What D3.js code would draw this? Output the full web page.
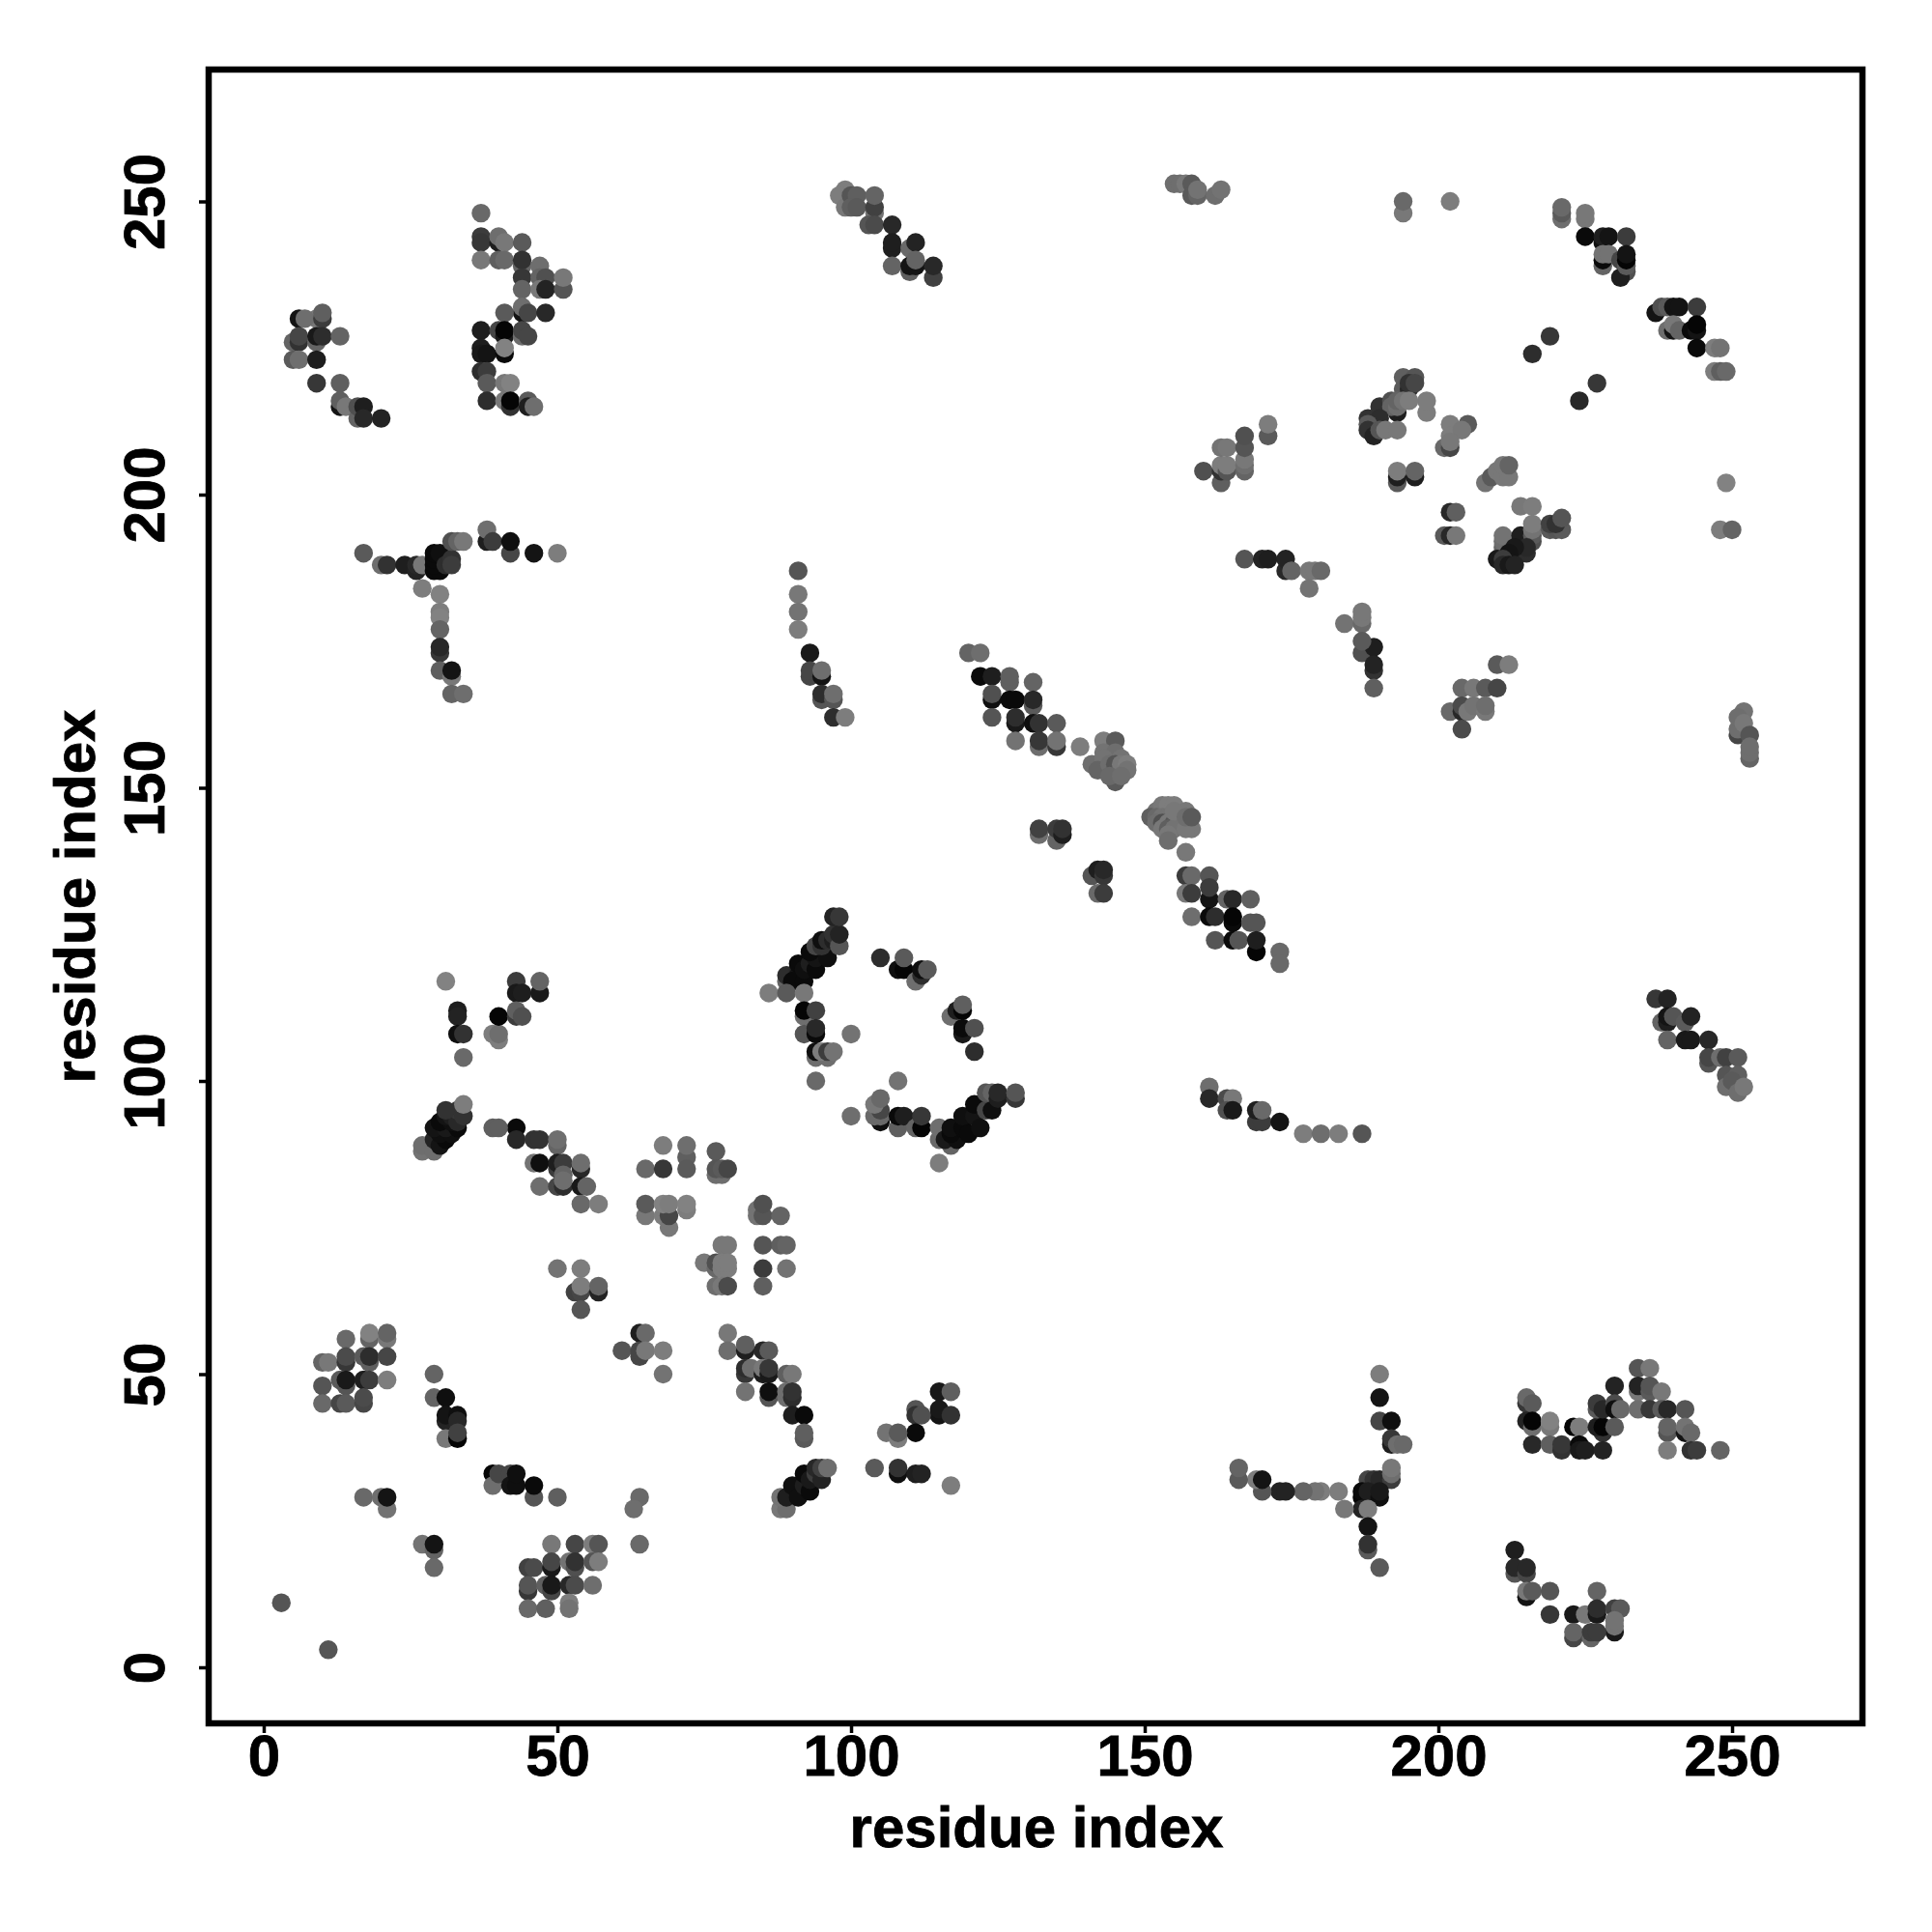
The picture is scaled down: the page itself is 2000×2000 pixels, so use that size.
<!DOCTYPE html>
<html><head><meta charset="utf-8">
<script src="https://cdn.jsdelivr.net/npm/d3@7"></script>
<style>html,body{margin:0;background:#fff}svg{display:block}</style></head>
<body><svg id="c" width="2000" height="2000"></svg>
<script>
const tickValues=[0,50,100,150,200,250];
const xLabel="residue index", yLabel="residue index";
// each entry: residue i, residue j, grey level
const clusterA=[[6,230,20],[9,230,120],[7,230,110],[10,230,60],[10,231,95],[5,226,100],[6,226,50],[6,227,70],[9,226,100],[9,227,25],[10,227,45],[13,227,100],[5,223,90],[6,223,110],[9,223,30],[9,219,55],[13,219,95],[13,215,20],[13,216,95],[14,215,120],[16,213,100],[16,215,80],[17,215,30],[17,213,40],[20,213,35]];
const clusterB=[[37,248,105],[37,244,60],[37,243,55],[40,243,30],[40,244,110],[41,243,120],[44,243,90],[37,240,120],[40,240,95],[41,240,105],[44,239,100],[44,240,50],[44,237,55],[44,235,100],[47,239,110],[47,237,100],[48,237,80],[47,235,120],[48,235,35],[51,235,85],[51,237,120],[44,231,20],[44,232,110],[45,231,70],[41,231,90],[48,231,40],[37,228,30],[40,228,70],[41,227,25],[41,228,5],[44,227,110],[44,228,70],[45,227,70],[37,225,30],[37,224,25],[38,224,20],[41,224,10],[41,225,130],[37,221,45],[38,221,60],[38,219,90],[41,219,120],[42,219,130],[38,216,45],[41,216,120],[42,215,50],[42,216,5],[45,216,90],[45,215,30],[46,215,110]];
const clusterT=[[17,190,90],[20,188,110],[21,188,50],[24,188,30],[26,187,35],[26,188,40],[27,188,120],[29,187,10],[30,187,10],[29,188,10],[29,189,10],[29,190,10],[30,190,15],[31,188,45],[32,189,50],[32,188,60],[32,192,80],[33,192,100],[34,192,120],[38,192,30],[38,194,110],[39,192,60],[42,190,70],[42,192,15],[46,190,20],[50,190,125],[27,184,125],[30,183,130],[30,180,125],[30,179,130],[30,177,100],[30,173,55],[30,174,40],[30,170,95],[32,169,120],[32,170,20],[32,166,100],[34,166,110]];
const clusterC=[[31,117,130],[43,117,60],[43,115,25],[44,115,30],[47,115,25],[47,117,100],[33,112,30],[33,111,35],[33,108,15],[34,108,50],[39,108,125],[40,107,125],[40,108,110],[40,111,5],[43,111,60],[43,112,95],[44,111,80],[34,104,105],[27,88,115],[27,89,110],[29,88,110],[29,90,35],[30,89,20],[31,90,10],[30,91,15],[29,92,20],[32,91,15],[31,92,25],[33,92,10],[30,93,10],[32,93,15],[31,94,20],[32,94,30],[33,93,40],[33,95,55],[31,95,50],[34,94,50],[34,96,125]];
const clusterD=[[43,92,10],[43,90,40],[39,92,95],[40,92,95],[46,90,50],[47,90,50],[50,89,100],[50,90,110],[46,86,115],[47,86,15],[50,85,60],[50,86,30],[51,86,60],[54,85,40],[54,86,110],[51,84,100],[47,82,110],[50,82,70],[51,82,45],[51,83,110],[54,82,25],[55,82,100],[54,79,105],[57,79,125]];
const clusterE=[[68,89,125],[72,87,95],[72,89,110],[65,85,105],[68,85,55],[72,85,90],[65,77,120],[65,79,90],[68,77,125],[69,75,120],[69,77,70],[68,79,130],[69,79,125],[72,78,125],[72,79,130],[50,68,115],[54,68,125],[53,64,65],[54,64,70],[54,65,125],[57,64,35],[57,65,100],[54,61,85],[64,57,30],[65,57,105],[61,54,85],[64,53,70],[64,54,70],[65,54,120],[68,54,125],[68,50,115]];
const clusterF=[[10,52,100],[11,52,120],[14,56,105],[18,56,100],[18,57,130],[21,56,120],[21,57,100],[14,52,55],[14,53,75],[17,53,90],[18,52,95],[18,53,45],[21,53,70],[10,48,85],[13,49,90],[14,48,85],[14,49,25],[17,49,30],[18,49,60],[21,49,125],[10,45,105],[13,45,70],[14,45,90],[17,45,70],[17,46,75],[29,50,100],[29,46,100],[31,46,15],[31,42,35],[31,43,20],[33,43,15],[33,42,40],[31,39,120],[33,39,5],[33,40,65]];
const clusterG=[[39,33,5],[39,31,110],[40,33,70],[42,33,70],[42,31,20],[43,31,15],[43,33,15],[46,29,85],[46,31,10],[50,29,95],[17,29,105],[20,29,110],[21,27,115],[21,29,20],[27,21,115],[29,20,100],[29,21,20],[29,17,105],[64,29,105],[63,27,110],[64,21,105],[3,11,85],[11,3,85]];
const clusterH=[[49,21,120],[53,21,70],[56,21,125],[57,21,85],[45,17,65],[46,17,75],[49,17,25],[49,18,70],[52,18,115],[53,17,80],[53,18,50],[56,18,85],[57,18,125],[45,13,55],[45,14,85],[48,14,95],[49,13,70],[49,14,25],[52,14,40],[53,14,75],[56,14,110],[45,10,105],[48,10,95],[52,11,125],[52,10,115]];
const clusterI=[[99,252,125],[98,251,125],[99,249,120],[100,251,85],[101,251,95],[100,249,95],[101,249,90],[104,248,115],[104,249,65],[104,251,100],[103,246,85],[104,246,75],[107,246,40],[107,242,30],[107,243,30],[110,242,105],[111,243,35],[107,239,100],[110,238,95],[110,239,20],[111,239,20],[111,240,100],[114,237,65],[114,239,40],[91,187,85],[91,183,120],[91,180,115],[91,177,125]];
const clusterJ=[[93,173,25],[93,169,70],[93,170,70],[95,169,20],[95,170,110],[95,165,85],[95,166,45],[97,165,85],[97,166,110],[97,162,45],[99,162,125],[120,173,100],[122,173,110],[122,169,10],[124,169,30],[127,168,95],[127,169,95],[131,168,100],[124,165,15],[124,166,80],[127,165,10],[128,165,10],[131,164,90],[131,165,40],[124,162,85],[128,161,25],[128,162,45],[131,161,15],[132,161,50],[135,161,90],[128,158,115],[132,157,110],[132,158,55],[135,157,55],[135,158,115],[139,157,125],[141,154,110]];
const clusterK=[[143,158,125],[145,158,90],[143,156,115],[145,156,110],[143,155,115],[146,155,115],[142,153,100],[144,154,110],[145,154,85],[146,154,120],[147,154,125],[147,153,115],[145,151,90],[144,152,105],[146,152,110],[132,142,110],[132,143,65],[135,141,100],[135,143,60],[136,142,30],[136,143,50],[141,135,85],[142,136,30],[143,135,55],[143,136,40],[142,132,105],[143,132,60]];
const clusterL=[[152,146,115],[153,147,120],[154,147,125],[155,147,125],[151,145,95],[152,145,105],[153,145,115],[154,145,115],[155,145,105],[156,145,95],[152,144,110],[153,144,80],[154,144,120],[155,144,85],[156,144,120],[153,143,120],[154,143,95],[155,143,115],[154,142,120],[154,141,110],[157,146,120],[155,146,120],[158,143,120],[157,143,120],[157,145,110],[158,145,90],[157,139,120]];
const clusterM=[[157,135,60],[158,135,105],[161,135,85],[157,132,120],[158,132,60],[161,131,20],[161,133,60],[164,131,100],[165,131,40],[168,131,95],[158,128,110],[161,128,10],[162,128,45],[165,127,10],[165,128,5],[168,127,85],[169,127,85],[162,124,85],[165,124,10],[166,124,85],[169,122,5],[169,124,30],[173,122,105],[173,120,105]];
const clusterN=[[187,173,80],[189,174,30],[189,170,50],[189,171,35],[189,167,95],[210,171,90],[212,171,125],[204,167,105],[206,167,120],[208,167,90],[210,167,70],[202,163,105],[204,163,40],[204,164,75],[205,163,120],[206,164,115],[208,163,120],[208,164,110],[204,160,75],[252,163,115],[251,159,70],[251,160,110],[251,162,110],[252,161,120],[253,159,85],[253,155,100],[253,156,110],[253,157,110]];
const clusterO=[[237,114,55],[239,114,35],[238,110,100],[239,110,30],[239,111,20],[240,111,85],[242,110,90],[243,111,35],[239,107,100],[242,107,25],[243,107,25],[246,107,40],[246,103,85],[246,104,70],[248,104,110],[249,104,65],[251,104,90],[249,101,85],[251,101,95],[249,99,110],[250,100,90],[251,98,110],[252,99,120]];
const clusterP=[[161,99,110],[161,97,40],[164,97,75],[165,97,120],[164,95,80],[165,95,25],[169,93,60],[170,93,60],[169,95,30],[170,95,105],[173,93,20],[177,91,125],[180,91,110],[183,91,125],[187,91,85]];
const clusterQ=[[89,117,100],[89,118,45],[91,119,40],[91,118,20],[90,117,10],[92,117,10],[91,120,10],[92,119,15],[93,120,30],[94,119,10],[94,121,20],[93,122,10],[96,121,15],[94,123,70],[95,123,50],[95,124,15],[96,124,45],[97,124,30],[97,125,50],[98,123,85],[98,125,35],[97,128,35],[98,128,55],[86,115,125],[89,115,90],[92,115,120]];
const clusterR=[[105,121,45],[108,119,15],[109,119,5],[109,121,90],[111,117,110],[112,118,45],[112,119,15],[113,119,90],[92,111,110],[92,112,5],[94,112,65],[92,108,85],[94,108,10],[94,109,40],[94,104,110],[94,105,15],[96,104,110],[95,105,125],[96,105,60],[97,105,115],[100,108,115],[94,100,105],[108,100,115],[117,111,110],[118,112,30],[119,112,5],[119,113,95],[119,108,25],[119,109,10],[121,109,80],[121,105,45]];
const clusterS=[[100,94,110],[105,93,15],[105,94,105],[104,94,105],[105,95,70],[104,96,120],[105,97,105],[108,92,95],[108,94,10],[109,94,30],[111,92,100],[112,92,5],[112,94,55],[115,86,125],[115,90,105],[115,92,110],[117,89,100],[116,90,25],[118,90,15],[117,91,10],[117,92,15],[119,92,10],[120,91,10],[119,94,15],[121,94,20],[122,92,15],[121,96,10],[123,95,70],[124,95,15],[123,98,85],[124,98,100],[125,97,30],[125,98,40],[128,97,55],[128,98,85]];
const clusterU=[[77,88,90],[77,84,110],[78,84,110],[77,85,85],[78,85,90],[79,85,70],[84,78,115],[84,77,115],[85,77,85],[85,79,80],[88,77,100],[78,72,120],[79,72,120],[85,72,85],[88,72,95],[89,72,100],[75,69,120],[77,68,105],[77,69,80],[78,68,125],[79,68,125],[78,69,125],[79,69,125],[85,68,60],[89,68,115],[77,65,110],[78,65,120],[79,65,75],[85,65,95]];
const clusterV=[[79,57,120],[79,54,110],[82,54,30],[82,55,95],[85,54,40],[86,54,90],[82,50,55],[82,51,45],[83,51,110],[85,50,30],[85,51,120],[86,50,25],[86,51,55],[89,50,95],[90,50,120],[82,47,115],[86,46,85],[86,47,15],[89,46,110],[89,47,110],[90,46,45],[90,47,50],[90,43,30],[92,43,10],[92,39,90],[92,40,95]];
const clusterW=[[88,27,120],[89,27,110],[88,29,115],[89,29,30],[90,31,15],[91,29,15],[92,31,30],[92,33,10],[93,30,10],[93,32,25],[94,33,60],[94,34,40],[95,32,35],[95,34,65],[96,34,110],[104,34,90],[108,33,15],[108,34,50],[111,33,30],[112,33,35],[117,31,125],[115,47,25],[117,47,95],[115,43,20],[115,44,25],[117,43,50],[111,44,85],[111,43,50],[112,43,80],[111,40,10],[106,40,115],[108,39,125],[108,40,90]];
const clusterX=[[155,253,110],[156,253,110],[157,253,120],[158,253,90],[158,251,90],[159,251,100],[159,252,115],[162,251,110],[163,252,115],[194,248,120],[194,250,105],[202,250,125],[221,247,110],[221,248,90],[221,249,105],[225,247,120],[225,248,120],[225,244,10],[228,243,15],[228,244,30],[229,244,20],[232,244,60],[228,239,100],[228,240,10],[228,241,115],[229,241,115],[231,240,70],[232,238,80],[231,237,30],[232,239,90],[232,240,5],[232,241,20],[237,231,20],[238,232,80],[239,232,90],[240,232,20],[241,232,20],[244,232,60],[239,228,110],[240,228,20],[240,229,120],[241,228,100],[243,228,10],[244,228,20],[244,229,5],[244,225,10],[247,225,125],[248,225,115],[247,221,125],[248,221,95],[249,221,105],[219,227,55],[216,224,45],[227,219,55],[224,216,40],[249,202,130],[248,194,125],[250,194,100]];
const clusterY=[[194,220,95],[196,220,85],[194,218,90],[195,218,40],[195,219,50],[196,219,70],[198,214,125],[198,216,125],[190,215,50],[192,216,80],[193,214,30],[192,215,100],[193,215,110],[193,216,100],[194,216,115],[195,216,125],[188,213,50],[190,213,45],[188,212,90],[188,211,50],[189,210,35],[190,211,85],[191,211,120],[193,211,120],[202,212,125],[205,212,90],[202,210,125],[204,211,120],[201,208,105],[202,208,70],[202,209,120],[193,202,90],[193,203,30],[193,204,125],[196,203,30],[196,204,100],[202,197,40],[203,197,95],[201,193,90],[202,193,40],[203,193,120]];
const clusterZ=[[208,202,115],[209,203,90],[210,204,120],[211,203,120],[212,203,120],[211,205,120],[212,205,100],[214,198,120],[216,198,125],[211,191,100],[211,192,110],[211,193,115],[214,192,20],[214,193,30],[216,192,80],[216,193,90],[216,194,115],[216,195,125],[215,190,45],[215,191,40],[213,191,25],[212,190,20],[210,189,25],[211,189,60],[211,188,40],[212,188,25],[213,188,35],[219,194,90],[220,194,85],[221,194,90],[219,195,65],[220,195,50],[221,196,85]];
const clusterAA=[[160,204,80],[163,202,95],[163,204,50],[163,205,125],[164,204,85],[164,205,125],[163,208,115],[164,208,120],[167,204,100],[167,205,110],[167,206,120],[167,208,85],[167,210,80],[171,210,90],[171,212,125],[167,189,85],[170,189,35],[171,189,30],[174,187,40],[174,189,35],[175,187,100],[178,187,120],[179,187,120],[180,187,105],[178,184,115],[184,178,115],[187,178,105],[187,179,120],[187,180,120],[187,175,90]];
const clusterBB=[[190,50,125],[190,46,20],[190,42,70],[192,42,15],[192,38,30],[192,39,55],[193,38,110],[194,38,105],[188,32,70],[189,32,50],[190,32,40],[192,32,60],[192,33,110],[192,34,120],[187,29,5],[187,30,10],[188,30,30],[190,29,15],[190,30,25],[187,27,35],[188,27,125],[188,24,20],[188,20,90],[188,21,50],[190,17,90],[184,27,120],[183,30,125],[180,30,125],[179,30,115],[177,30,100],[173,30,35],[174,30,35],[170,30,85],[169,32,125],[170,32,20],[166,32,90],[166,34,100]];
const clusterCC=[[215,45,55],[215,46,105],[216,45,90],[215,42,35],[216,41,110],[216,42,5],[219,41,120],[219,42,130],[216,38,40],[219,38,95],[221,37,50],[221,38,55],[223,41,5],[224,41,125],[224,38,10],[224,37,25],[225,37,30],[228,40,50],[227,41,30],[228,41,5],[228,37,35],[227,44,90],[227,45,60],[228,44,40],[230,48,35],[230,45,75],[230,44,15],[231,44,105],[230,41,90],[234,51,85],[236,51,120],[234,47,120],[234,48,35],[236,47,90],[236,48,85],[238,47,120],[234,44,110],[236,44,55],[238,44,90],[239,44,40],[242,44,85],[239,40,85],[239,41,100],[242,40,20],[242,41,115],[243,40,105],[239,37,125],[243,37,50],[244,37,60],[248,37,100]];
const clusterDD=[[213,20,30],[213,16,85],[213,17,40],[215,16,70],[215,17,40],[215,12,20],[215,13,120],[216,13,90],[219,13,85],[219,9,55],[223,9,25],[227,13,100],[225,9,120],[227,9,25],[227,10,45],[230,10,65],[231,10,90],[230,6,25],[230,7,115],[230,8,115],[223,5,70],[223,6,100],[226,5,100],[226,6,60],[227,6,60]];

const contacts=[clusterA,clusterB,clusterT,clusterC,clusterD,clusterE,clusterF,clusterG,clusterH,clusterI,clusterJ,clusterK,clusterL,clusterM,clusterN,clusterO,clusterP,clusterQ,clusterR,clusterS,clusterU,clusterV,clusterW,clusterX,clusterY,clusterZ,clusterAA,clusterBB,clusterCC,clusterDD].flat();

const FONT='"Liberation Sans", Arial, sans-serif';
const x=d3.scaleLinear().domain([-9.375,272.2]).range([216,1928]);
const y=d3.scaleLinear().domain([-9.555,272.49]).range([1784,72]);
const grey=d3.scaleLinear().domain([0,255]).range(["#000000","#ffffff"]);
const svg=d3.select("#c");
svg.append("rect").attr("width",2000).attr("height",2000).attr("fill","#fff");

svg.append("g").selectAll("circle").data(contacts).join("circle")
  .attr("cx",d=>x(d[0])).attr("cy",d=>y(d[1])).attr("r",9.7)
  .attr("fill",d=>grey(d[2]));

const ax=svg.append("g").attr("transform","translate(0,1784)")
  .call(d3.axisBottom(x).tickValues(tickValues).tickSize(10).tickPadding(0).tickFormat(d3.format("d")));
const ay=svg.append("g").attr("transform","translate(216,0)")
  .call(d3.axisLeft(y).tickValues(tickValues).tickSize(10).tickPadding(0).tickFormat(d3.format("d")));
ax.select(".domain").remove(); ay.select(".domain").remove();
[ax,ay].forEach(a=>{
  a.selectAll("line").attr("stroke","#000").attr("stroke-width",3.5);
  a.selectAll("text").attr("fill","#000").attr("stroke","#000").attr("stroke-width",0.8)
   .style("font-family",FONT).style("font-weight","bold").style("font-size","60px");
});
ax.selectAll("text").attr("dy",null).attr("y",54).attr("text-anchor","middle");
ay.selectAll("text").attr("dy",null).attr("x",null).attr("text-anchor","middle")
  .attr("transform","translate(-46,0) rotate(-90)");

svg.append("rect").attr("x",216).attr("y",72).attr("width",1712).attr("height",1712)
  .attr("fill","none").attr("stroke","#000").attr("stroke-width",6.5);

svg.append("text").attr("x",1073).attr("y",1912).attr("text-anchor","middle").text(xLabel)
  .attr("stroke","#000").attr("stroke-width",0.8)
  .style("font-family",FONT).style("font-weight","bold").style("font-size","60px");
svg.append("text").attr("transform","translate(98,928) rotate(-90)").attr("text-anchor","middle").text(yLabel)
  .attr("stroke","#000").attr("stroke-width",0.8)
  .style("font-family",FONT).style("font-weight","bold").style("font-size","60px");
</script></body></html>
